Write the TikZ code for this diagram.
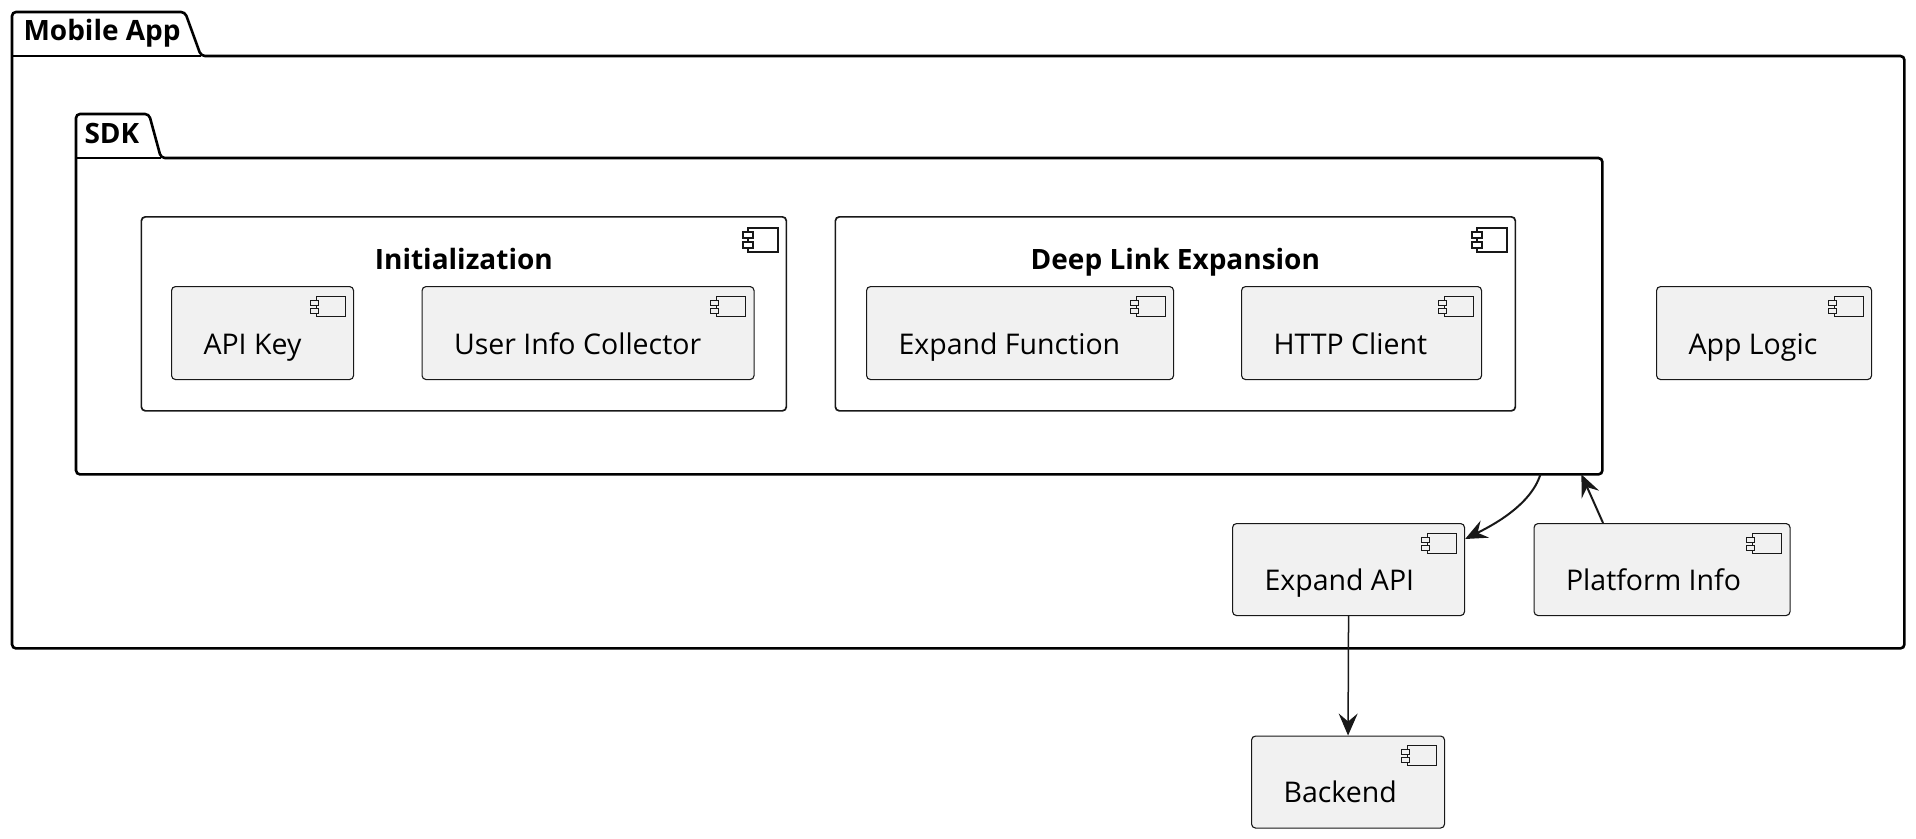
\documentclass[tikz,border=0pt]{standalone}
\usepackage{fontspec}
\setmainfont{Open Sans}
\usepackage{tikz}
\usetikzlibrary{positioning,arrows.meta}

\definecolor{compfill}{HTML}{F1F1F1}
\definecolor{lineclr}{HTML}{181818}

\tikzset{
  comp/.style={draw=lineclr, line width=1.1pt, fill=compfill, rounded corners=4pt,
    anchor=north west, inner sep=0pt},
  container/.style={draw=lineclr, line width=1.7pt, fill=white, rounded corners=4pt,
    anchor=north west, inner sep=0pt},
  pkgbody/.style={anchor=north west, inner sep=0pt},
  pkgline/.style={draw=black, line width=2.6pt, rounded corners=4pt},
  ctext/.style={font=\fontsize{28.5}{32}\selectfont, anchor=base west, xshift=29pt, yshift=26pt},
  ttext/.style={font=\bfseries\fontsize{28}{32}\selectfont, anchor=base, yshift=-53pt},
  ptext/.style={font=\bfseries\fontsize{28}{32}\selectfont, anchor=base west},
  conn/.style={->, draw=lineclr, line width=2pt},
}

\newcommand{\compicon}[1]{%
  \begin{scope}[shift={(#1.north east)}, draw=lineclr, line width=1pt]
    \draw (-38,10) rectangle (-9,30);
    \filldraw[fill=compfill] (-44,14) rectangle (-36,19) (-44,22) rectangle (-36,27);
  \end{scope}}
\newcommand{\boxicon}[1]{%
  \begin{scope}[shift={(#1.north east)}, draw=lineclr, line width=1.6pt]
    \draw (-39,12) rectangle (-9,36);
    \filldraw[fill=white] (-44,16) rectangle (-34,22) (-44,26) rectangle (-34,32);
  \end{scope}}

\begin{document}
\begin{tikzpicture}[x=1pt, y=-1pt, >={Stealth[length=22pt, width=19pt, inset=8pt]}]
  \useasboundingbox (0,0) rectangle (1916,838);

  % Mobile App package
  \node[pkgbody, minimum width=1892, minimum height=592] (mobile) at (12,56) {};
  \draw[pkgline] (mobile.north west) -- ++(0,-44) -- ++(173,0) -- ++(16,44)
    -- (mobile.north east) -- (mobile.south east) -- (mobile.south west) -- cycle;
  \draw[pkgline] (mobile.north west) -- ++(189,0);
  \node[ptext] (mobiletitle) at (20,40) {Mobile App};

  % SDK package
  \node[pkgbody, minimum width=1526, minimum height=316] (sdk) at (76,158) {};
  \draw[pkgline] (sdk.north west) -- ++(0,-44) -- ++(73,0) -- ++(12,44)
    -- (sdk.north east) -- (sdk.south east) -- (sdk.south west) -- cycle;
  \draw[pkgline] (sdk.north west) -- ++(85,0);
  \node[ptext] (sdktitle) at (81,143) {SDK};

  \node[container, minimum width=645, minimum height=194, label={[ttext]north:Initialization}] (init) at (140.5,216) {};
  \boxicon{init}
  \node[container, minimum width=680, minimum height=194, label={[ttext]north:Deep Link Expansion}] (deeplink) at (834.5,216) {};
  \boxicon{deeplink}

  \node[comp, minimum width=182, minimum height=93, label={[ctext]south west:API Key}] (apikey) at (171,286) {};
  \node[comp, minimum width=332, minimum height=93, label={[ctext]south west:User Info Collector}] (userinfo) at (421.5,286) {};
  \node[comp, minimum width=307, minimum height=93, label={[ctext]south west:Expand Function}] (expfunc) at (866,286) {};
  \node[comp, minimum width=240, minimum height=93, label={[ctext]south west:HTTP Client}] (httpclient) at (1241,286) {};
  \node[comp, minimum width=215, minimum height=93, label={[ctext]south west:App Logic}] (applogic) at (1656,286) {};
  \node[comp, minimum width=232, minimum height=92, label={[ctext]south west:Expand API}] (expapi) at (1232,523) {};
  \node[comp, minimum width=256, minimum height=92, label={[ctext]south west:Platform Info}] (platform) at (1533.5,523) {};
  \node[comp, minimum width=193, minimum height=92, label={[ctext]south west:Backend}] (backend) at (1251,735.5) {};
  \foreach \c in {apikey,userinfo,expfunc,httpclient,applogic,expapi,platform,backend}
    \compicon{\c};

  \draw[conn] ([xshift=-62pt]sdk.south east) .. controls +(-10,32) and +(24,-12) .. ([yshift=-16pt]expapi.north east);
  \draw[conn] ([xshift=-59pt]platform.north) -- ([xshift=-21pt]sdk.south east);
  \draw[conn, line width=1.5pt] (expapi.south) -- (backend.north);
\end{tikzpicture}
\end{document}
